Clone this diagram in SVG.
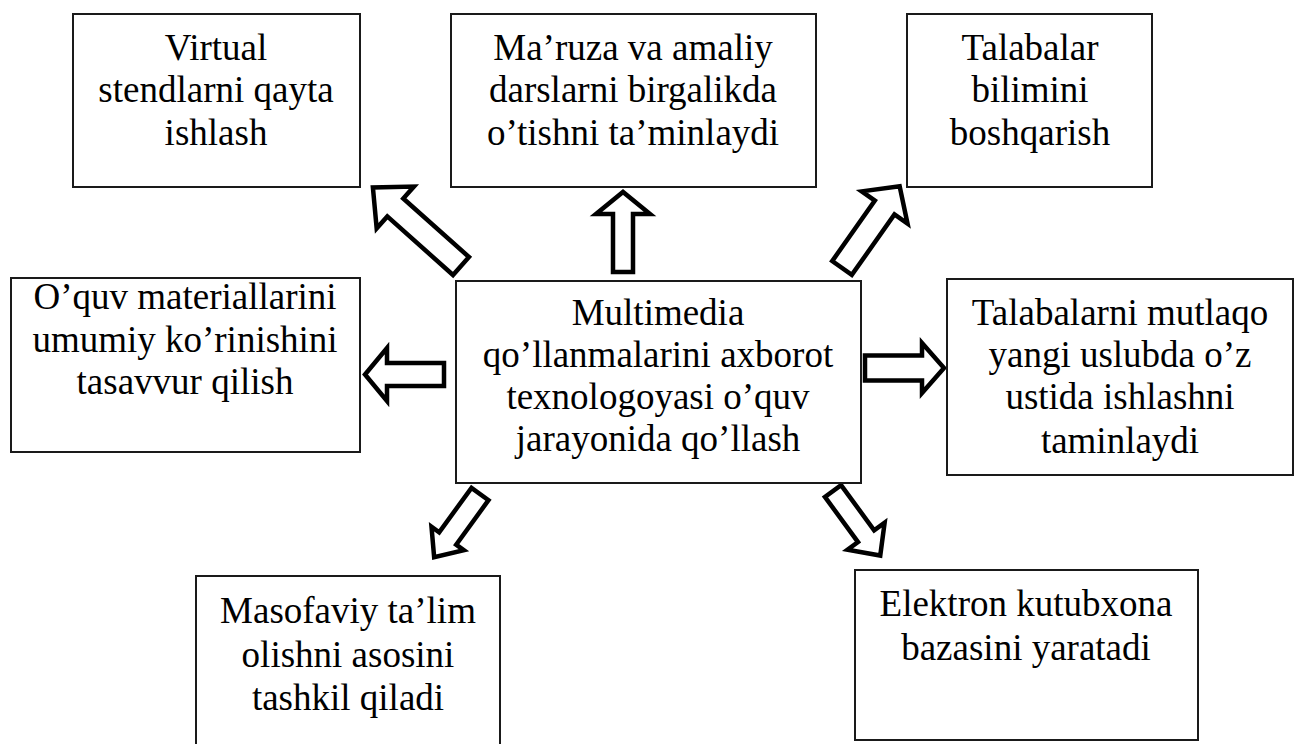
<svg xmlns="http://www.w3.org/2000/svg" width="1296" height="744" viewBox="0 0 1296 744">
<style>
.box{fill:#fff;stroke:#1a1a1a;stroke-width:2}
.t{font-size:37px;fill:#000;text-anchor:middle}
.arr{fill:#fff;stroke:#000;stroke-width:4.5;stroke-linejoin:miter;stroke-miterlimit:10}
</style>
<rect width="1296" height="744" fill="#fff"/>
<g id="connectors">
<polygon class="arr" transform="translate(461,266) rotate(-138.3)" points="0,-12 88,-12 88,-28 118,0 88,28 88,12 0,12"/>
<polygon class="arr" transform="translate(623,272) rotate(-90)" points="0,-10 58,-10 58,-27 80,0 58,27 58,10 0,10"/>
<polygon class="arr" transform="translate(842,268) rotate(-54.8)" points="0,-12 74,-12 74,-28 100,0 74,28 74,12 0,12"/>
<polygon class="arr" transform="translate(444,374.5) rotate(180)" points="0,-11.5 57,-11.5 57,-26.5 79,0 57,26.5 57,11.5 0,11.5"/>
<polygon class="arr" transform="translate(865,368) rotate(0)" points="0,-12.5 57,-12.5 57,-25 79,0 57,25 57,12.5 0,12.5"/>
<polygon class="arr" transform="translate(480,494) rotate(126)" points="0,-10.5 55,-10.5 55,-20 78,0 55,20 55,10.5 0,10.5"/>
<polygon class="arr" transform="translate(833,491) rotate(53.8)" points="0,-10 56,-10 56,-23 80,0 56,23 56,10 0,10"/>
</g>
<g font-family="Liberation Serif, DejaVu Serif, serif">
<g id="n-virtual">
<rect class="box" x="73" y="14" width="287" height="173"/>
<text class="t" x="216" y="60">Virtual</text>
<text class="t" x="216" y="102">stendlarni qayta</text>
<text class="t" x="216" y="145">ishlash</text>
</g>
<g id="n-maruza">
<rect class="box" x="451" y="14" width="365" height="173"/>
<text class="t" x="633" y="60">Ma’ruza va amaliy</text>
<text class="t" x="633" y="102">darslarni birgalikda</text>
<text class="t" x="633" y="145">o’tishni ta’minlaydi</text>
</g>
<g id="n-talabalar">
<rect class="box" x="907" y="14" width="245" height="173"/>
<text class="t" x="1030" y="60">Talabalar</text>
<text class="t" x="1030" y="102">bilimini</text>
<text class="t" x="1030" y="145">boshqarish</text>
</g>
<g id="n-ouquv">
<rect class="box" x="11" y="278" width="349" height="174"/>
<text class="t" x="185" y="309">O’quv materiallarini</text>
<text class="t" x="185" y="352">umumiy ko’rinishini</text>
<text class="t" x="185" y="394">tasavvur qilish</text>
</g>
<g id="n-center">
<rect class="box" x="456" y="281" width="405" height="202"/>
<text class="t" x="658" y="325">Multimedia</text>
<text class="t" x="658" y="367">qo’llanmalarini axborot</text>
<text class="t" x="658" y="409">texnologoyasi o’quv</text>
<text class="t" x="658" y="451">jarayonida qo’llash</text>
</g>
<g id="n-mutlaqo">
<rect class="box" x="947" y="279" width="346" height="196"/>
<text class="t" x="1120" y="325">Talabalarni mutlaqo</text>
<text class="t" x="1120" y="367">yangi uslubda o’z</text>
<text class="t" x="1120" y="409">ustida ishlashni</text>
<text class="t" x="1120" y="453">taminlaydi</text>
</g>
<g id="n-masofaviy">
<rect class="box" x="196" y="576" width="304" height="200"/>
<text class="t" x="348" y="623">Masofaviy ta’lim</text>
<text class="t" x="348" y="667">olishni asosini</text>
<text class="t" x="348" y="710">tashkil qiladi</text>
</g>
<g id="n-elektron">
<rect class="box" x="855" y="570" width="343" height="170"/>
<text class="t" x="1026" y="616">Elektron kutubxona</text>
<text class="t" x="1026" y="660">bazasini yaratadi</text>
</g>
</g>
</svg>
